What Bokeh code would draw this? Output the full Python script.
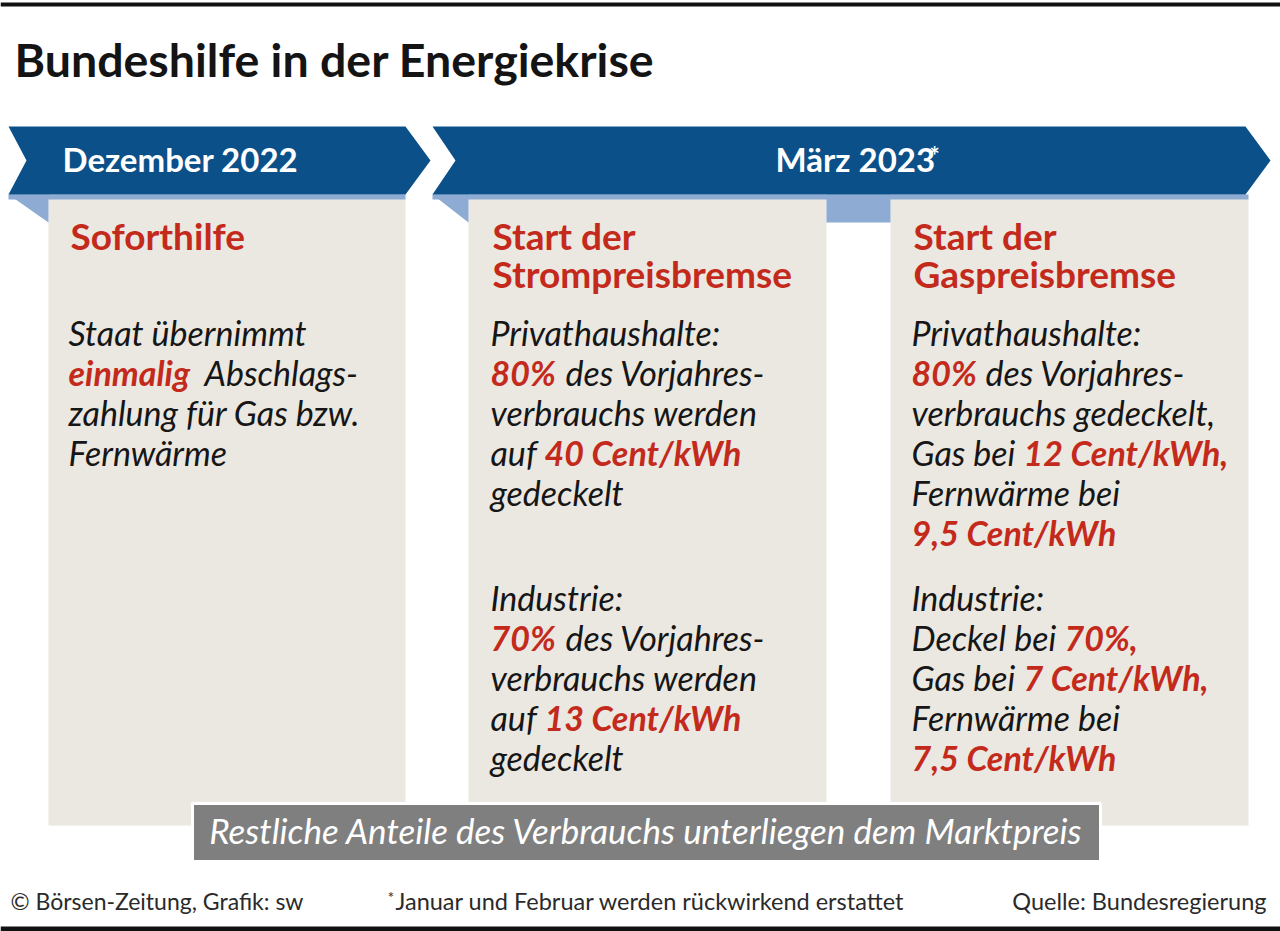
from bokeh.plotting import figure
from bokeh.models import Range1d
from bokeh.core.properties import value
from bokeh.embed import file_html
from bokeh.resources import INLINE

# ---------------- content ----------------
title = "Bundeshilfe in der Energiekrise"
periods = ["Dezember 2022", "März 2023"]
period_note = "*"
headings = [["Soforthilfe"],
            ["Start der", "Strompreisbremse"],
            ["Start der", "Gaspreisbremse"]]

# each line: list of (text, highlighted)
col1_lines = [
    [("Staat übernimmt", False)],
    [("einmalig", True), ("Abschlags-", False)],
    [("zahlung für Gas bzw.", False)],
    [("Fernwärme", False)],
]
col2_private = [
    [("Privathaushalte:", False)],
    [("80%", True), ("des Vorjahres-", False)],
    [("verbrauchs werden", False)],
    [("auf", False), ("40 Cent/kWh", True)],
    [("gedeckelt", False)],
]
col2_industry = [
    [("Industrie:", False)],
    [("70%", True), ("des Vorjahres-", False)],
    [("verbrauchs werden", False)],
    [("auf", False), ("13 Cent/kWh", True)],
    [("gedeckelt", False)],
]
col3_private = [
    [("Privathaushalte:", False)],
    [("80%", True), ("des Vorjahres-", False)],
    [("verbrauchs gedeckelt,", False)],
    [("Gas bei", False), ("12 Cent/kWh,", True)],
    [("Fernwärme bei", False)],
    [("9,5 Cent/kWh", True)],
]
col3_industry = [
    [("Industrie:", False)],
    [("Deckel bei", False), ("70%,", True)],
    [("Gas bei", False), ("7 Cent/kWh,", True)],
    [("Fernwärme bei", False)],
    [("7,5 Cent/kWh", True)],
]
bar_text = "Restliche Anteile des Verbrauchs unterliegen dem Marktpreis"
footer_left = "© Börsen-Zeitung, Grafik: sw"
footer_mid = "Januar und Februar werden rückwirkend erstattet"
footer_right = "Quelle: Bundesregierung"

# ---------------- layout / style ----------------
FONT = "Lato"
BLUE = "#0b5089"
LBLUE = "#8eabd3"
BEIGE = "#ebe8e1"
RED = "#c42a1c"
INK = "#161616"

W, H = 1280, 931
p = figure(width=W, height=H, x_range=Range1d(0, W), y_range=Range1d(H, 0),
           output_backend="svg", toolbar_location=None, min_border=0,
           x_axis_location=None, y_axis_location=None)
p.grid.visible = False
p.outline_line_color = None
p.background_fill_color = "white"
p.border_fill_color = "white"

BASE_SHIFT = 0.42  # compensate renderer baseline offset (fraction of font size)


def txt(x, y, s, size, color=INK, style="normal", align="left"):
    p.text(x=[x], y=[y - BASE_SHIFT * size], text=[s], text_font=value(FONT),
           text_font_size=f"{size}px", text_color=color, text_font_style=style,
           text_align=align, text_baseline="alphabetic")


def box(l, r, t, b, color, line_color=None, lw=0):
    p.quad(left=[l], right=[r], top=[t], bottom=[b], fill_color=color,
           line_color=line_color, line_width=lw)


def poly(xs, ys, color):
    p.patch(xs, ys, fill_color=color, line_color=None)


# frame lines
box(0, 1280, 2, 6, "#111111")
box(0, 1280, 926, 931, "#111111")

# title
txt(14, 78, title, 46.5, "#141414", "bold")

# content boxes
box(48, 405, 198, 825, BEIGE)
box(468, 826, 198, 825, BEIGE)
box(890, 1248, 198, 825, BEIGE)

# folds / shadows
poly([8, 48, 48], [194, 194, 222], LBLUE)
box(8, 405, 194, 199, LBLUE)
poly([432, 468, 468], [194, 194, 222], LBLUE)
box(432, 1248, 194, 199, LBLUE)
box(826, 890, 194, 222, LBLUE)

# banners
poly([8, 405, 430, 405, 8, 26], [126, 126, 160, 194, 194, 160], BLUE)
poly([432, 1245, 1270, 1245, 432, 455], [126, 126, 160, 194, 194, 160], BLUE)
txt(62, 172, periods[0], 33, "white", "bold")
txt(775, 172, periods[1], 33, "white", "bold")
txt(929, 165, period_note, 24, "white", "bold")

# headings
col_x = [70, 492, 913]
for x, hs in zip(col_x, headings):
    for i, h in enumerate(hs):
        txt(x, 251 + 38 * i, h, 37, RED, "bold")

# body text; segment start offsets per line
def body(lines, x0, y0, starts):
    for i, (line, st) in enumerate(zip(lines, starts)):
        for (s, hl), sx in zip(line, st):
            txt(x0 + sx, y0 + 40 * i, s,
                34, RED if hl else INK, "bold italic" if hl else "italic")

body(col1_lines, 68, 346, [[0], [0, 136], [0], [0]])
body(col2_private, 490, 346, [[0], [0, 75], [0], [0, 54], [0]])
body(col2_industry, 490, 611, [[0], [0, 75], [0], [0, 54], [0]])
body(col3_private, 911, 346, [[0], [0, 74], [0], [0, 112], [0], [0]])
body(col3_industry, 911, 611, [[0], [0, 153], [0, 112], [0], [0]])

# bottom bar
box(192, 1100, 803, 861, "#7f7f7f", "white", 3)
txt(646, 844, bar_text, 35, "white", "italic", "center")

# footer
txt(10, 910, footer_left, 23, "#2a2a2a")
txt(387, 903, "*", 16, "#2a2a2a")
txt(395, 910, footer_mid, 23.5, "#2a2a2a")
txt(1266, 910, footer_right, 23.5, "#2a2a2a", "normal", "right")

open("out.html", "w").write(file_html(p, INLINE))
